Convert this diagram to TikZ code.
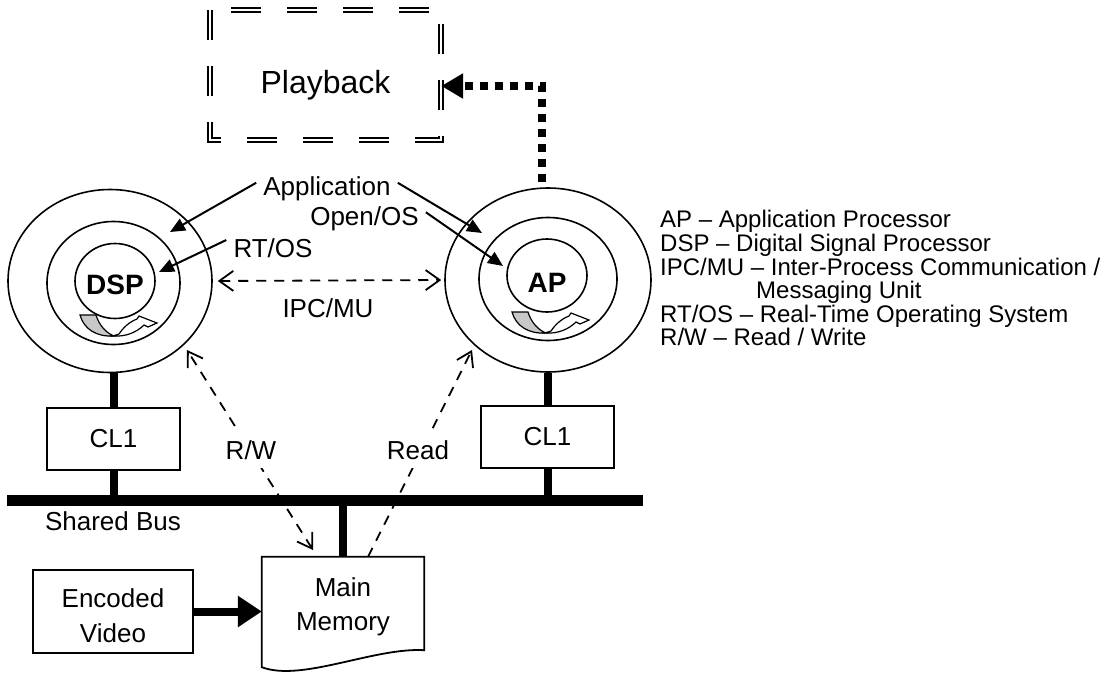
\documentclass[tikz,border=0pt]{standalone}
\usepackage{fontspec}
\setmainfont{Liberation Sans}
\usetikzlibrary{arrows.meta,shapes.geometric,calc}
\definecolor{icongray}{RGB}{200,200,200}
\newcommand\lblfont{\fontsize{26}{34}\selectfont}
\newcommand\encfont{\fontsize{26}{35}\selectfont}
\newcommand\legfont{\fontsize{24}{23.5}\selectfont}
\newcommand\pbfont{\fontsize{32}{36}\selectfont}
\newcommand\bigbold{\fontsize{28}{32}\selectfont\bfseries}
\tikzset{
  cycarrow/.pic={
    \filldraw[fill=icongray, line width=1.2pt] (-36,0) -- (-20,0) .. controls (-17,10) and (-10,18) .. (-2,21) .. controls (-20,22) and (-32,14) .. (-36,0) -- cycle;
    \filldraw[fill=white, line width=1.2pt] (-3,21) .. controls (10,22) and (21,17) .. (28,10) -- (32,12) -- (41,8) -- (23,1) -- (21,4) .. controls (13,7) and (7,13) .. (3,19) -- cycle;
  }
}
\begin{document}
\begin{tikzpicture}[x=1pt,y=-1pt,line join=miter,
  ring/.style={ellipse, draw, line width=1.6pt, inner sep=0pt},
  box/.style={draw, line width=1.8pt, inner sep=0pt, font=\lblfont, align=center},
  lbl/.style={font=\lblfont, inner sep=7pt},
  leg/.style={font=\legfont, inner sep=0pt, anchor=base west},
  solidarrow/.style={line width=2pt, -{Triangle[length=15pt,width=13pt]}},
  dasharrow/.style={line width=1.8pt, dash pattern=on 10pt off 8pt},
  bus/.style={line width=11pt},
  stub/.style={line width=8pt},
  fat/.style={line width=8pt, -{Triangle[length=24pt,width=30pt]}},
  dotarrow/.style={line width=8pt, dash pattern=on 8pt off 7pt, -{Triangle[length=22pt,width=24pt]}},
  dbl/.style={double, double distance=2.3pt, line width=2pt, dash pattern=on 30pt off 26pt}
]
\useasboundingbox (0,0) rectangle (1106,675);

% Playback
\node[draw=none, minimum width=231pt, minimum height=130pt, inner sep=0pt,
  label={[font=\pbfont, yshift=-9.8pt]center:Playback}] (pb) at (325.5,75) {};
\draw[dbl] (pb.north west) -- (pb.south west) -- (pb.south east) -- (pb.north east) -- cycle;

% DSP rings
\node[ring, minimum width=204pt, minimum height=183pt] (dspo) at (110,281) {};
\node[ring, minimum width=133pt, minimum height=123pt] (dspm) at (113.5,283) {};
\node[ring, minimum width=80pt, minimum height=75pt,
  label={[font=\bigbold, yshift=-4pt]center:DSP}] (dspi) at (115,281) {};
\pic at (116,315) {cycarrow};

% AP rings
\node[ring, minimum width=206pt, minimum height=184pt] (apo) at (548,280) {};
\node[ring, minimum width=138pt, minimum height=123pt] (apm) at (548,279) {};
\node[ring, minimum width=80pt, minimum height=73pt,
  label={[font=\bigbold, yshift=-7.5pt]center:AP}] (api) at (547,275.5) {};
\pic at (548,312) {cycarrow};

% CL1 boxes
\node[box, minimum width=133pt, minimum height=62pt] (cl1l) at (113.5,439) {CL1};
\node[box, minimum width=133pt, minimum height=62pt] (cl1r) at (547.5,437) {CL1};

% bus
\coordinate (busL) at (7,500);
\coordinate (busR) at (643,500);

% memory
\node[draw=none, minimum width=162pt, minimum height=100pt, inner sep=0pt,
  font=\lblfont, align=center] (mem) at (343,607) {Main\\Memory};
\draw[line width=1.8pt] (mem.north west) -- (mem.north east) -- ([yshift=7pt]mem.south east)
  .. controls +(-50,-3) and +(40,15) .. ([yshift=-10pt]mem.south west) -- cycle;

% encoded video
\node[box, minimum width=160pt, minimum height=83pt,
  label={[font=\encfont, align=center, yshift=-4.5pt]center:Encoded\\Video}] (enc) at (113,611.5) {};
\draw[fat] (enc.east) -- (enc.east -| mem.west);

% stubs and bus
\draw[stub] (cl1l.north |- dspo.south) -- (cl1l.north);
\draw[stub] (cl1l.south) -- (cl1l.south |- busL);
\draw[stub] (cl1r.north |- apo.south) -- (cl1r.north);
\draw[stub] (cl1r.south) -- (cl1r.south |- busL);
\draw[stub] (mem.north |- busL) -- (mem.north);
\draw[bus] (busL) -- (busR);
\node[lbl, anchor=base, inner sep=0pt] (sbus) at (113,530) {Shared Bus};

% labels
\node[lbl, anchor=base] (app) at (327,195) {Application};
\node[lbl, anchor=base] (oos) at (364.5,225) {Open/OS};
\node[lbl, anchor=base] (rtos) at (273,257) {RT/OS};
\node[lbl, anchor=base] (ipc) at (328,317) {IPC/MU};

\coordinate (tA) at (170,232);
\coordinate (tB) at (482,233);
\coordinate (tC) at (503,266);
\coordinate (tD) at (159,272);
\draw[solidarrow] ([yshift=5.5pt]app.west) -- (tA);
\draw[solidarrow] ([yshift=5.5pt]app.east) -- (tB);
\draw[solidarrow] ([yshift=6pt]oos.east) -- (tC);
\draw[solidarrow] ([yshift=7.7pt]rtos.west) -- (tD);

% IPC
\draw[dasharrow, {Straight Barb[length=14pt,width=20pt]}-{Straight Barb[length=14pt,width=20pt]},
  shorten <=5pt, shorten >=3pt] (dspo.east) -- (apo.west);

% R/W and Read
\coordinate (rwA) at (187,350);
\coordinate (rwB) at (313,550);
\coordinate (rdA) at (472,350);
\draw[dasharrow, {Straight Barb[length=14pt,width=18pt]}-{Straight Barb[length=14pt,width=18pt]}] (rwB) -- (rwA);
\draw[dasharrow, -{Straight Barb[length=14pt,width=18pt]}] ([xshift=25pt]mem.north) -- (rdA);
\node[lbl, anchor=base, fill=white, inner xsep=2pt, inner ysep=9pt] (rw) at (251,459) {R/W};
\node[lbl, anchor=base, fill=white, inner xsep=2pt, inner ysep=9pt] (rd) at (418,459) {Read};

% dotted to playback
\draw[dotarrow] ([xshift=-6pt,yshift=5pt]apo.north) |- ([yshift=-11pt]pb.east);

% legend
\node[leg] (l1) at (660,227) {AP – Application Processor};
\node[leg] (l2) at (660,251) {DSP – Digital Signal Processor};
\node[leg] (l3) at (660,275) {IPC/MU – Inter-Process Communication /};
\node[leg] (l4) at (756,298) {Messaging Unit};
\node[leg] (l5) at (660,322) {RT/OS – Real-Time Operating System};
\node[leg] (l6) at (660,345) {R/W – Read / Write};
\end{tikzpicture}
\end{document}
